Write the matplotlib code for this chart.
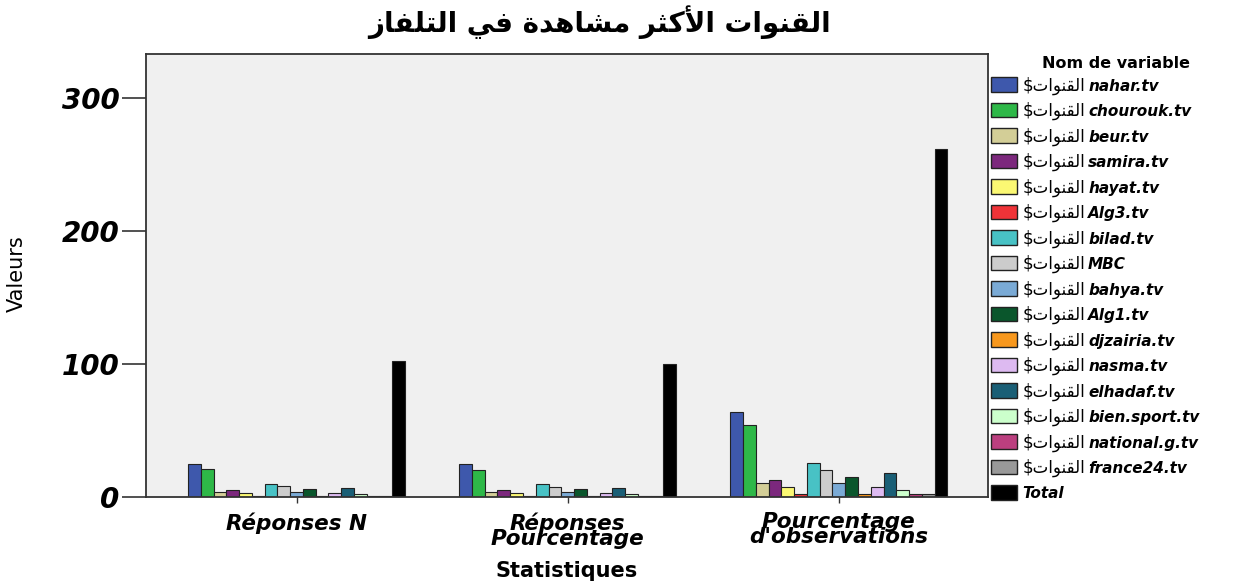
import numpy as np
import matplotlib
matplotlib.use("Agg")
import matplotlib.pyplot as plt
from matplotlib.patches import Patch

# Data (SPSS multiple-response frequencies)
categories = ["Réponses N", "Réponses\nPourcentage", "Pourcentage\nd'observations"]
channels = ["nahar.tv", "chourouk.tv", "beur.tv", "samira.tv", "hayat.tv", "Alg3.tv",
            "bilad.tv", "MBC", "bahya.tv", "Alg1.tv", "djzairia.tv", "nasma.tv",
            "elhadaf.tv", "bien.sport.tv", "national.g.tv", "france24.tv", "Total"]
reponses_n = [25, 21, 4, 5, 3, 1, 10, 8, 4, 6, 1, 3, 7, 2, 1, 1, 102]
reponses_pct = [24.5, 20.6, 3.9, 4.9, 2.9, 1.0, 9.8, 7.8, 3.9, 5.9, 1.0, 2.9, 6.9, 2.0, 1.0, 1.0, 100.0]
obs_pct = [64.1, 53.8, 10.3, 12.8, 7.7, 2.6, 25.6, 20.5, 10.3, 15.4, 2.6, 7.7, 17.9, 5.1, 2.6, 2.6, 261.5]
colors = ["#3E58AC", "#2EB848", "#D3CE97", "#7C287D", "#FBF873", "#EF3338",
          "#48C2C5", "#CCCCCC", "#7AAAD5", "#0A562C", "#F8981D", "#DDBAF1",
          "#1A5F76", "#CCFFCC", "#BB3F7F", "#999999", "#000000"]

title_ar = "القنوات الأكثر مشاهدة في التلفاز"
prefix_ar = "القنوات"

# minimal Arabic shaping (matplotlib has no shaping / bidi)
FORMS = {
    "ا": (0xFE8D, 0xFE8E), "أ": (0xFE83, 0xFE84), "د": (0xFEA9, 0xFEAA),
    "ر": (0xFEAD, 0xFEAE), "ز": (0xFEAF, 0xFEB0), "و": (0xFEED, 0xFEEE),
    "ة": (0xFE93, 0xFE94),
    "ت": (0xFE95, 0xFE96, 0xFE97, 0xFE98), "ث": (0xFE99, 0xFE9A, 0xFE9B, 0xFE9C),
    "ش": (0xFEB5, 0xFEB6, 0xFEB7, 0xFEB8), "ف": (0xFED1, 0xFED2, 0xFED3, 0xFED4),
    "ق": (0xFED5, 0xFED6, 0xFED7, 0xFED8), "ك": (0xFED9, 0xFEDA, 0xFEDB, 0xFEDC),
    "ل": (0xFEDD, 0xFEDE, 0xFEDF, 0xFEE0), "م": (0xFEE1, 0xFEE2, 0xFEE3, 0xFEE4),
    "ن": (0xFEE5, 0xFEE6, 0xFEE7, 0xFEE8), "ه": (0xFEE9, 0xFEEA, 0xFEEB, 0xFEEC),
    "ي": (0xFEF1, 0xFEF2, 0xFEF3, 0xFEF4),
}
LAMALEF = {"ا": (0xFEFB, 0xFEFC), "أ": (0xFEF7, 0xFEF8)}


def shape(text):
    chars = list(text)
    out = []
    i = 0
    while i < len(chars):
        c = chars[i]
        prev = chars[i - 1] if i > 0 else " "
        joins_prev = prev in FORMS and len(FORMS[prev]) == 4 and c in FORMS
        if c == "ل" and i + 1 < len(chars) and chars[i + 1] in LAMALEF:
            f = LAMALEF[chars[i + 1]]
            out.append(chr(f[1] if joins_prev else f[0]))
            i += 2
            continue
        if c not in FORMS:
            out.append(c)
            i += 1
            continue
        f = FORMS[c]
        nxt = chars[i + 1] if i + 1 < len(chars) else " "
        joins_next = len(f) == 4 and nxt in FORMS
        if joins_prev and joins_next:
            out.append(chr(f[3]))
        elif joins_prev:
            out.append(chr(f[1]))
        elif joins_next:
            out.append(chr(f[2]))
        else:
            out.append(chr(f[0]))
        i += 1
    return "".join(reversed(out))


plt.rcParams["font.family"] = ["DejaVu Sans"]

W, H = 1242, 585
fig = plt.figure(figsize=(W / 100, H / 100), dpi=100)
ax = fig.add_axes([146 / W, 1 - 497 / H, (988 - 146) / W, (497 - 54) / H])
ax.set_facecolor("#F0F0F0")

series = np.array([reponses_n, reponses_pct, obs_pct])
x = np.arange(len(categories))
n = len(channels)
group_w = 0.8
w = group_w / n
for j in range(n):
    pos = x - group_w / 2 + w * (j + 0.5)
    ax.bar(pos, series[:, j], width=w, color=colors[j], edgecolor="#222222", linewidth=0.8)

ax.set_xlim(-0.555, 2.55)
ax.set_ylim(0, 333)
ax.set_yticks([0, 100, 200, 300])
ax.set_yticklabels(["0", "100", "200", "300"], fontsize=20, fontweight="bold", fontstyle="italic")
ax.set_xticks(x)
ax.set_xticklabels(categories, fontsize=15.5, fontweight="bold", fontstyle="italic", linespacing=0.68)
ax.tick_params(axis="y", length=17, width=1.2, color="#333333", pad=2)
ax.tick_params(axis="x", length=4, width=1, color="#333333", pad=7)
for s in ax.spines.values():
    s.set_color("#333333")
    s.set_linewidth(1.3)

ax.set_xlabel("Statistiques", fontsize=15, fontweight="bold", labelpad=9)
ax.set_ylabel("Valeurs", fontsize=15)
ax.yaxis.set_label_coords((27 - 146) / 842, (497 - 274) / 443)

fig.text(0.483, 0.962, shape(title_ar), ha="center", va="center", fontsize=20, fontweight="bold")

# legend: "$" + Arabic prefix in regular font, channel name in bold italic next to it
fs = 12
handles = [Patch(facecolor=colors[j], edgecolor="#222222", linewidth=1.0) for j in range(n)]
labels = ["\\$" + shape(prefix_ar) for ch in channels[:-1]] + [" "]
leg = ax.legend(handles, labels, loc="upper left", bbox_to_anchor=(1.0, (497 - 73) / 443),
                frameon=False, handlelength=1.56, handleheight=0.96,
                handletextpad=0.3, labelspacing=0.43, borderaxespad=0, borderpad=0.2,
                prop={"size": fs})
fig.text(1116 / W, 1 - 63 / H, "Nom de variable", ha="center", va="center",
         fontsize=11.5, fontweight="bold")

fig.canvas.draw()
descent = 0.236 * fs * 100 / 72
for txt, ch in zip(leg.get_texts(), channels):
    bb = txt.get_window_extent()
    x0 = bb.x0 if ch == "Total" else bb.x1 + 3
    fig.text(x0 / W, (bb.y0 + descent) / H, ch, ha="left", va="baseline",
             fontsize=11, fontweight="bold", fontstyle="italic")

fig.savefig("out.png", dpi=100)
